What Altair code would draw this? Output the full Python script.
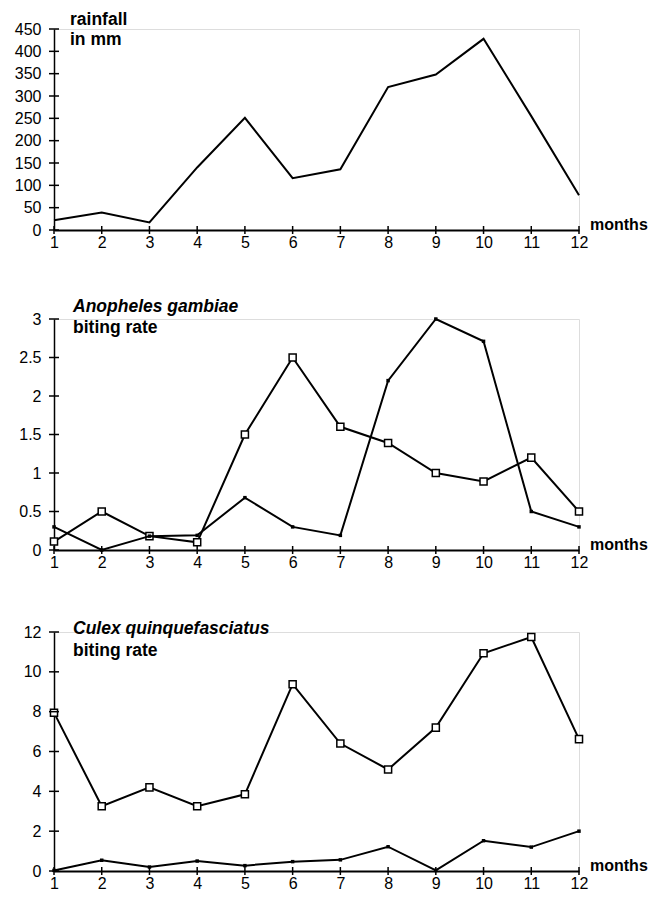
import altair as alt
import pandas as pd

# ---------------- data ----------------
months = [1, 2, 3, 4, 5, 6, 7, 8, 9, 10, 11, 12]

rainfall = [22, 39, 17, 140, 251, 116, 136, 320, 348, 428, 255, 78]

anopheles_open = [0.11, 0.5, 0.18, 0.1, 1.5, 2.5, 1.6, 1.39, 1.0, 0.89, 1.2, 0.5]
anopheles_dot = [0.3, 0.0, 0.18, 0.19, 0.68, 0.3, 0.19, 2.2, 3.0, 2.71, 0.5, 0.3]

culex_open = [7.95, 3.25, 4.2, 3.25, 3.85, 9.38, 6.4, 5.1, 7.2, 10.93, 11.75, 6.62]
culex_dot = [0.03, 0.54, 0.2, 0.5, 0.27, 0.47, 0.56, 1.22, 0.03, 1.52, 1.2, 2.0]

rain_ticks = [0, 50, 100, 150, 200, 250, 300, 350, 400, 450]
anopheles_ticks = [0, 0.5, 1, 1.5, 2, 2.5, 3]
culex_ticks = [0, 2, 4, 6, 8, 10, 12]

FONT = "Liberation Sans"
W = 525
TITLE_SIZE = 17.5
LABEL_SIZE = 16


def panel(series, yticks, height, title1, title2, italic1):
    ymax = yticks[-1]
    xs = alt.Scale(domain=[months[0], months[-1]], nice=False, zero=False)
    ys = alt.Scale(domain=[0, ymax], nice=False, zero=True)
    xax = alt.Axis(values=months, labelExpr="'' + datum.value", title=None, ticks=False,
                   tickSize=0, grid=False, domainWidth=2, domainColor="black",
                   labelFlush=False, labelOverlap=False, labelPadding=4,
                   labelFontSize=LABEL_SIZE, labelColor="black", labelFont=FONT)
    yax = alt.Axis(values=yticks, labelExpr="'' + datum.value", title=None, ticks=False,
                   tickSize=0, grid=False, domainWidth=1.5, domainColor="black",
                   labelFlush=False, labelOverlap=False, labelPadding=13,
                   labelFontSize=LABEL_SIZE, labelColor="black", labelFont=FONT)
    X = lambda: alt.X("month:Q", scale=xs, axis=xax)
    Y = lambda: alt.Y("v:Q", scale=ys, axis=yax)
    layers = []
    for values, marker in series:
        df = pd.DataFrame({"month": months, "v": values})
        base = alt.Chart(df)
        layers.append(base.mark_line(color="black", strokeWidth=2).encode(x=X(), y=Y()))
        if marker == "square":
            layers.append(base.mark_point(shape="square", filled=True, fill="white",
                                          stroke="black", strokeWidth=1.5, size=50,
                                          opacity=1).encode(x=X(), y=Y()))
        elif marker == "dot":
            layers.append(base.mark_point(shape="square", filled=True, color="black",
                                          size=12, opacity=1).encode(x=X(), y=Y()))
    # crossing ticks on the y axis
    ytdf = pd.DataFrame({"v": yticks})
    layers.append(alt.Chart(ytdf).mark_rule(color="black", strokeWidth=1.5).encode(
        y=Y(), x=alt.value(-5), x2=alt.value(5)))
    # crossing ticks on the x axis
    xtdf = pd.DataFrame({"month": months})
    layers.append(alt.Chart(xtdf).mark_rule(color="black", strokeWidth=1.5).encode(
        x=X(), y=alt.value(height - 4), y2=alt.value(height + 4)))
    one = pd.DataFrame({"k": [0]})
    t1, t1x, t1y = title1
    t2, t2x, t2y = title2
    layers.append(alt.Chart(one).mark_text(
        align="left", baseline="alphabetic", font=FONT, fontSize=TITLE_SIZE, fontWeight="bold",
        fontStyle="italic" if italic1 else "normal", color="black").encode(
        x=alt.value(t1x), y=alt.value(t1y), text=alt.value(t1)))
    layers.append(alt.Chart(one).mark_text(
        align="left", baseline="alphabetic", font=FONT, fontSize=TITLE_SIZE, fontWeight="bold",
        color="black").encode(x=alt.value(t2x), y=alt.value(t2y), text=alt.value(t2)))
    layers.append(alt.Chart(one).mark_text(
        align="left", baseline="alphabetic", font=FONT, fontSize=16, fontWeight="bold",
        color="black").encode(x=alt.value(536), y=alt.value(height), text=alt.value("months")))
    return alt.layer(*layers).properties(width=W, height=height)


top = panel([(rainfall, None)], rain_ticks, 201,
            ("rainfall", 16, -4), ("in mm", 16, 16), False)
mid = panel([(anopheles_open, "square"), (anopheles_dot, "dot")], anopheles_ticks, 231,
            ("Anopheles gambiae", 19, -7), ("biting rate", 19, 14), True)
bot = panel([(culex_open, "square"), (culex_dot, "dot")], culex_ticks, 239,
            ("Culex quinquefasciatus", 19, 2), ("biting rate", 19, 24), True)

chart = alt.vconcat(
    top,
    alt.vconcat(mid, bot, spacing=82, bounds="flush"),
    spacing=89, bounds="flush",
).properties(
    padding={"left": 5, "top": 2, "right": 0, "bottom": 0}
).configure_view(strokeWidth=0, stroke="transparent").configure(font=FONT, background="white")

chart.save("out.html", embed_options={"renderer": "svg", "actions": False})
